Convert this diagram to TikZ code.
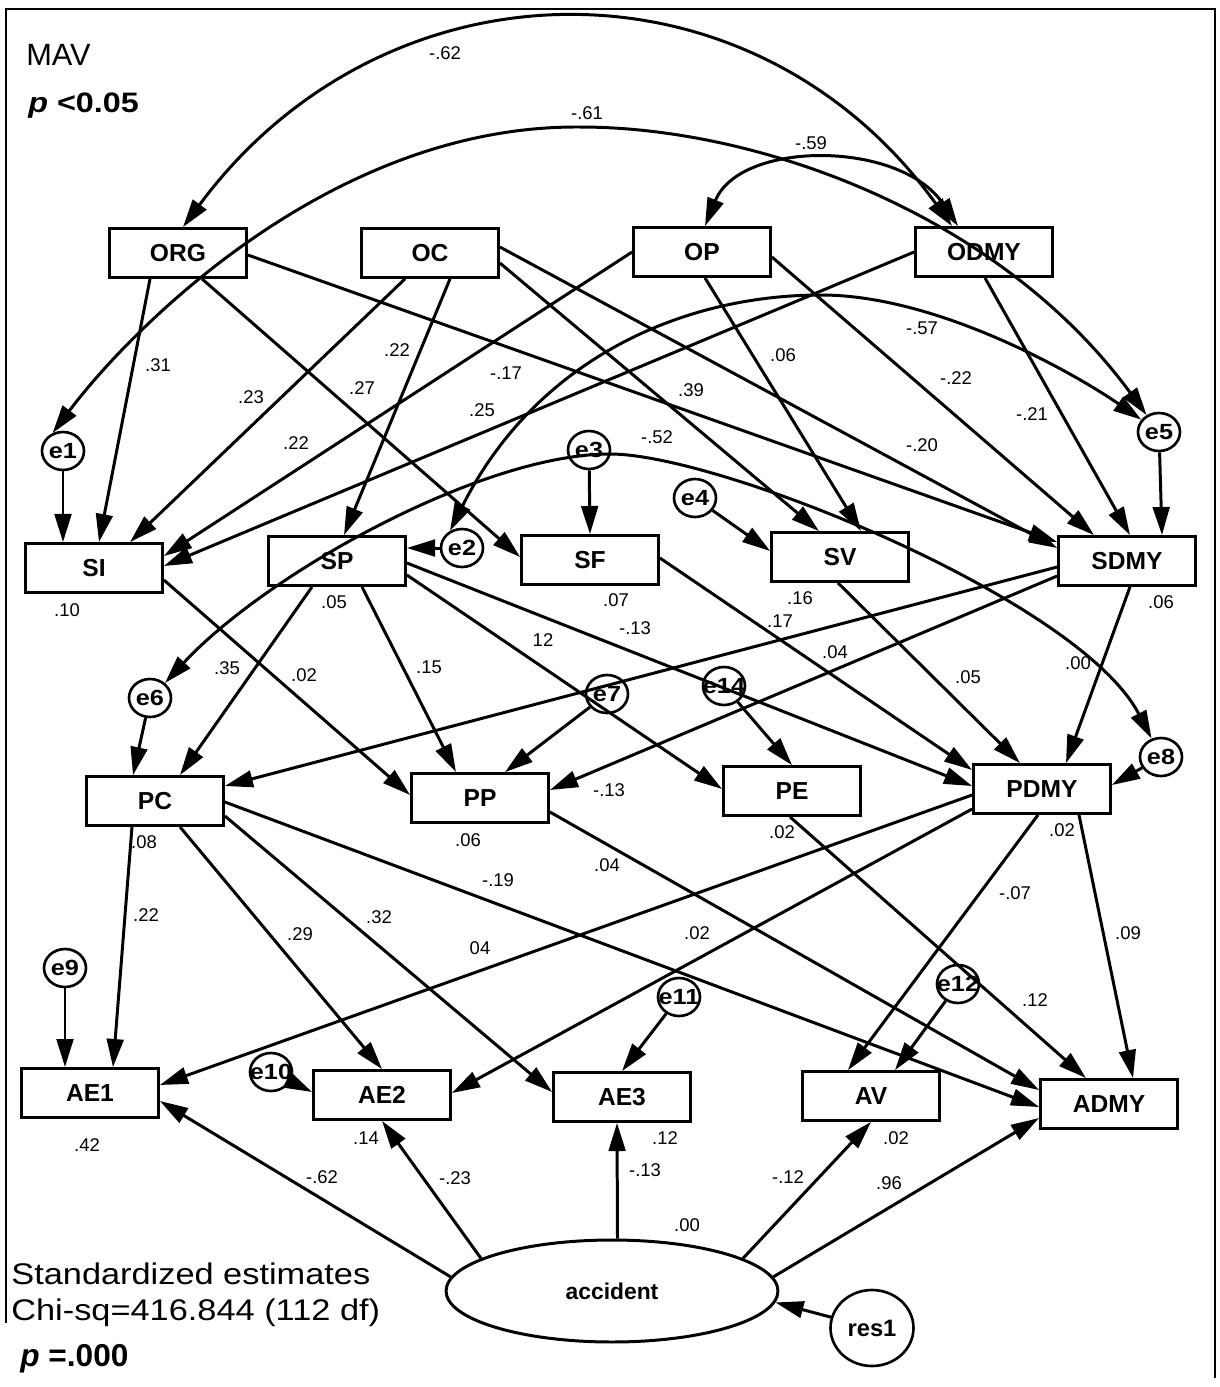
\documentclass[tikz,border=0pt]{standalone}
\usepackage{fontspec}
\setmainfont{Liberation Sans}
\usetikzlibrary{arrows.meta,shapes.geometric}
\begin{document}
\begin{tikzpicture}[x=0.02cm,y=-0.02cm,
  box/.style={draw,line width=1.6pt,minimum width=2.74cm,minimum height=0.98cm,inner sep=0pt,font=\fontsize{14}{16}\selectfont\bfseries},
  err/.style={draw,ellipse,line width=1.5pt,minimum width=0.84cm,minimum height=0.76cm,inner sep=0pt},
  elab/.style={font=\fontsize{12.5}{14}\selectfont\bfseries,inner sep=0pt},
  arr/.style={line width=1.7pt,-{Triangle[length=16pt,width=9.5pt]}},
  cov/.style={line width=1.7pt,{Triangle[length=16pt,width=9.5pt]}-{Triangle[length=16pt,width=9.5pt]}},
  lab/.style={font=\fontsize{10.5}{12}\selectfont,inner sep=0pt},
  big/.style={anchor=base west,inner sep=0pt},
]
\useasboundingbox (0,0) rectangle (1220,1387);
% frame
\draw[line width=1.1pt] (6,1323) -- (6,9) -- (1215,9) -- (1215,1378);

% observed variables
\node[box] (ORG) at (178,253) {ORG};
\node[box] (OC) at (430,253) {OC};
\node[box] (OP) at (702,252) {OP};
\node[box] (ODMY) at (984,252) {ODMY};
\node[box] (SI) at (94,568) {SI};
\node[box] (SP) at (337,561) {SP};
\node[box] (SF) at (590,560) {SF};
\node[box] (SV) at (840,557) {SV};
\node[box] (SDMY) at (1127,561) {SDMY};
\node[box] (PC) at (155,801) {PC};
\node[box] (PP) at (480,798) {PP};
\node[box] (PE) at (792,791) {PE};
\node[box] (PDMY) at (1042,789) {PDMY};
\node[box] (AE1) at (90,1093) {AE1};
\node[box] (AE2) at (382,1095) {AE2};
\node[box] (AE3) at (622,1097) {AE3};
\node[box] (AV) at (871,1096) {AV};
\node[box] (ADMY) at (1109,1104) {ADMY};

% error terms
\node[err,label={[elab]center:\scalebox{1.15}[1]{e1}}] (e1) at (63,451) {};
\node[err,label={[elab]center:\scalebox{1.15}[1]{e2}}] (e2) at (462,548) {};
\node[err,label={[elab]center:\scalebox{1.15}[1]{e3}}] (e3) at (589,450) {};
\node[err,label={[elab]center:\scalebox{1.15}[1]{e4}}] (e4) at (695,498) {};
\node[err,label={[elab]center:\scalebox{1.15}[1]{e5}}] (e5) at (1159,432) {};
\node[err,label={[elab]center:\scalebox{1.15}[1]{e6}}] (e6) at (150,698) {};
\node[err,label={[elab]center:\scalebox{1.15}[1]{e7}}] (e7) at (607,694) {};
\node[err,label={[elab]center:\scalebox{1.15}[1]{e14}}] (e14) at (724,686) {};
\node[err,label={[elab]center:\scalebox{1.15}[1]{e8}}] (e8) at (1161,757) {};
\node[err,label={[elab]center:\scalebox{1.15}[1]{e9}}] (e9) at (65,968) {};
\node[err,label={[elab]center:\scalebox{1.15}[1]{e10}}] (e10) at (271,1072) {};
\node[err,label={[elab]center:\scalebox{1.15}[1]{e11}}] (e11) at (679,997) {};
\node[err,label={[elab]center:\scalebox{1.15}[1]{e12}}] (e12) at (958,984) {};
\node[draw,ellipse,line width=1.5pt,minimum width=1.66cm,minimum height=1.52cm,inner sep=0pt,font=\fontsize{13.5}{15}\selectfont\bfseries] (res1) at (872,1328) {res1};
\node[draw,ellipse,line width=1.7pt,minimum width=6.64cm,minimum height=2.04cm,inner sep=0pt,font=\fontsize{13}{15}\selectfont\bfseries] (acc) at (612,1291) {accident};

% covariances
\draw[cov] ([shift={(5,0)}]ORG.north) .. controls (386,-47) and (752,-51) .. ([shift={(-32,0)}]ODMY.north);
\draw[cov] (e1.120) .. controls (130,330) and (330,125) .. (580,127) .. controls (760,127) and (1000,215) .. (e5);
\draw[cov] ([shift={(3,0)}]OP.north) .. controls (740,140) and (900,140) .. ([shift={(-26,0)}]ODMY.north);
\draw[cov] (e2.125) .. controls (535,361) and (680,295) .. (821,295) .. controls (940,295) and (1080,377) .. (e5);
\draw[cov] (e6.45) .. controls (265,575) and (480,454) .. (610,454) .. controls (720,454) and (1080,600) .. (e8);

% paths from top row
\draw[arr] ([shift={(-28,0)}]ORG.south) -- ([shift={(5,0)}]SI.north);
\draw[arr] ([shift={(24,0)}]ORG.south) -- ([shift={(0,-3)}]SF.west);
\draw[arr] ([shift={(0,2)}]ORG.east) -- ([shift={(0,-19)}]SDMY.west);
\draw[arr] ([shift={(-25,0)}]OC.south) -- ([shift={(36,0)}]SI.north);
\draw[arr] ([shift={(20,0)}]OC.south) -- ([shift={(7,0)}]SP.north);
\draw[arr] ([shift={(0,10)}]OC.east) -- ([shift={(-21,0)}]SV.north);
\draw[arr] ([shift={(0,-6)}]OC.east) -- ([shift={(0,-13)}]SDMY.west);
\draw[arr] (OP.west) -- ([shift={(0,-12)}]SI.east);
\draw[arr] ([shift={(3,0)}]OP.south) -- ([shift={(21,0)}]SV.north);
\draw[arr] ([shift={(0,5)}]OP.east) -- ([shift={(-33,0)}]SDMY.north);
\draw[arr] (ODMY.west) -- ([shift={(0,-2)}]SI.east);
\draw[arr] ([shift={(1,0)}]ODMY.south) -- ([shift={(3,0)}]SDMY.north);
\draw[arr] (e5) -- ([shift={(35,0)}]SDMY.north);
\draw[arr] (e1) -- ([shift={(-31,0)}]SI.north);
\draw[arr] (e3) -- (SF.north);
\draw[arr] (e4) -- ([shift={(0,-6)}]SV.west);
\draw[arr] (e2) -- ([shift={(0,-13)}]SP.east);

% paths from second row
\draw[arr] ([shift={(0,12)}]SI.east) -- ([shift={(0,-3)}]PP.west);
\draw[arr] ([shift={(-25,0)}]SP.south) -- ([shift={(25,0)}]PC.north);
\draw[arr] ([shift={(25,0)}]SP.south) -- ([shift={(-24,0)}]PP.north);
\draw[arr] ([shift={(0,14)}]SP.east) -- ([shift={(0,-2)}]PE.west);
\draw[arr] ([shift={(0,2)}]SP.east) -- ([shift={(0,-3)}]PDMY.west);
\draw[arr] ([shift={(0,-2)}]SF.east) -- ([shift={(0,-19)}]PDMY.west);
\draw[arr] ([shift={(-2,0)}]SV.south) -- ([shift={(-22,0)}]PDMY.north);
\draw[arr] ([shift={(0,6)}]SDMY.west) -- ([shift={(0,-15)}]PC.east);
\draw[arr] ([shift={(0,15)}]SDMY.west) -- ([shift={(0,-8)}]PP.east);
\draw[arr] ([shift={(3,0)}]SDMY.south) -- ([shift={(24,0)}]PDMY.north);
\draw[arr] (e8) -- ([shift={(0,-4)}]PDMY.east);
\draw[arr] (e6) -- ([shift={(-22,0)}]PC.north);
\draw[arr] (e7) -- ([shift={(25,0)}]PP.north);
\draw[arr] (e14) -- (PE.north);

% paths from third row
\draw[arr] ([shift={(-23,0)}]PC.south) -- ([shift={(23,0)}]AE1.north);
\draw[arr] ([shift={(25,0)}]PC.south) -- (AE2.north);
\draw[arr] ([shift={(0,15)}]PC.east) -- ([shift={(0,-5)}]AE3.west);
\draw[arr] ([shift={(0,1)}]PC.east) -- ([shift={(0,3)}]ADMY.west);
\draw[arr] ([shift={(0,14)}]PP.east) -- ([shift={(0,-14)}]ADMY.west);
\draw[arr] ([shift={(-2,0)}]PE.south) -- ([shift={(-23,0)}]ADMY.north);
\draw[arr] ([shift={(0,6)}]PDMY.west) -- ([shift={(0,-8)}]AE1.east);
\draw[arr] ([shift={(0,20)}]PDMY.west) -- ([shift={(0,-2)}]AE2.east);
\draw[arr] ([shift={(-4,0)}]PDMY.south) -- ([shift={(-23,0)}]AV.north);
\draw[arr] ([shift={(37,0)}]PDMY.south) -- ([shift={(24,0)}]ADMY.north);
\draw[arr] (e9) -- ([shift={(-25,0)}]AE1.north);
\draw[arr] (e10) -- ([shift={(0,-3)}]AE2.west);
\draw[arr] (e11) -- (AE3.north);
\draw[arr] (e12) -- ([shift={(24,0)}]AV.north);

% accident
\draw[arr] (acc.175) -- ([shift={(0,8)}]AE1.east);
\draw[arr] (acc.166) -- (AE2.south);
\draw[arr] (acc.84) -- ([shift={(-5,0)}]AE3.south);
\draw[arr] (acc.14) -- (AV.south);
\draw[arr] (acc.5) -- ([shift={(0,14)}]ADMY.west);
\draw[arr] (res1) -- (acc.-4);

% coefficient labels
\node[lab] (l01) at (445,53) {-.62};
\node[lab] (l02) at (587,113) {-.61};
\node[lab] (l03) at (811,143) {-.59};
\node[lab] (l04) at (158,365) {.31};
\node[lab] (l05) at (251,397) {.23};
\node[lab] (l06) at (397,350) {.22};
\node[lab] (l07) at (362,388) {.27};
\node[lab] (l08) at (506,373) {-.17};
\node[lab] (l09) at (482,410) {.25};
\node[lab] (l10) at (296,443) {.22};
\node[lab] (l11) at (691,390) {.39};
\node[lab] (l12) at (783,355) {.06};
\node[lab] (l13) at (922,328) {-.57};
\node[lab] (l14) at (956,378) {-.22};
\node[lab] (l15) at (1032,414) {-.21};
\node[lab] (l16) at (657,437) {-.52};
\node[lab] (l17) at (922,445) {-.20};
\node[lab] (l18) at (67,610) {.10};
\node[lab] (l19) at (334,602) {.05};
\node[lab] (l20) at (616,600) {.07};
\node[lab] (l21) at (800,598) {.16};
\node[lab] (l22) at (1161,602) {.06};
\node[lab] (l23) at (227,668) {.35};
\node[lab] (l24) at (304,675) {.02};
\node[lab] (l25) at (429,667) {.15};
\node[lab] (l26) at (543,640) {12};
\node[lab] (l27) at (635,628) {-.13};
\node[lab] (l28) at (780,621) {.17};
\node[lab] (l29) at (835,652) {.04};
\node[lab] (l30) at (968,677) {.05};
\node[lab] (l31) at (1078,663) {.00};
\node[lab] (l32) at (609,790) {-.13};
\node[lab] (l33) at (144,842) {.08};
\node[lab] (l34) at (468,840) {.06};
\node[lab] (l35) at (782,832) {.02};
\node[lab] (l36) at (1062,830) {.02};
\node[lab] (l37) at (146,915) {.22};
\node[lab] (l38) at (300,934) {.29};
\node[lab] (l39) at (379,917) {.32};
\node[lab] (l40) at (498,880) {-.19};
\node[lab] (l41) at (607,865) {.04};
\node[lab] (l42) at (480,948) {04};
\node[lab] (l43) at (697,933) {.02};
\node[lab] (l44) at (1015,893) {-.07};
\node[lab] (l45) at (1128,933) {.09};
\node[lab] (l46) at (1035,1000) {.12};
\node[lab] (l47) at (87,1145) {.42};
\node[lab] (l48) at (366,1138) {.14};
\node[lab] (l49) at (665,1138) {.12};
\node[lab] (l50) at (896,1138) {.02};
\node[lab] (l51) at (322,1177) {-.62};
\node[lab] (l52) at (455,1178) {-.23};
\node[lab] (l53) at (645,1170) {-.13};
\node[lab] (l54) at (788,1177) {-.12};
\node[lab] (l55) at (889,1183) {.96};
\node[lab] (l56) at (687,1225) {.00};

% texts
\node[big,font=\fontsize{17.5}{20}\selectfont] (mav) at (26,65) {MAV};
\node[big,font=\fontsize{16}{18}\selectfont\bfseries] (pv1) at (28,112) {\scalebox{1.15}[1]{\textit{p} <0.05}};
\node[big,font=\fontsize{17}{20}\selectfont] (std) at (11,1284) {\scalebox{1.15}[1]{Standardized estimates}};
\node[big,font=\fontsize{17}{20}\selectfont] (chi) at (11,1320) {\scalebox{1.15}[1]{Chi-sq=416.844 (112 df)}};
\node[big,font=\fontsize{18}{20}\selectfont\bfseries] (pv2) at (20,1366) {\textit{p} =.000};
\end{tikzpicture}
\end{document}
